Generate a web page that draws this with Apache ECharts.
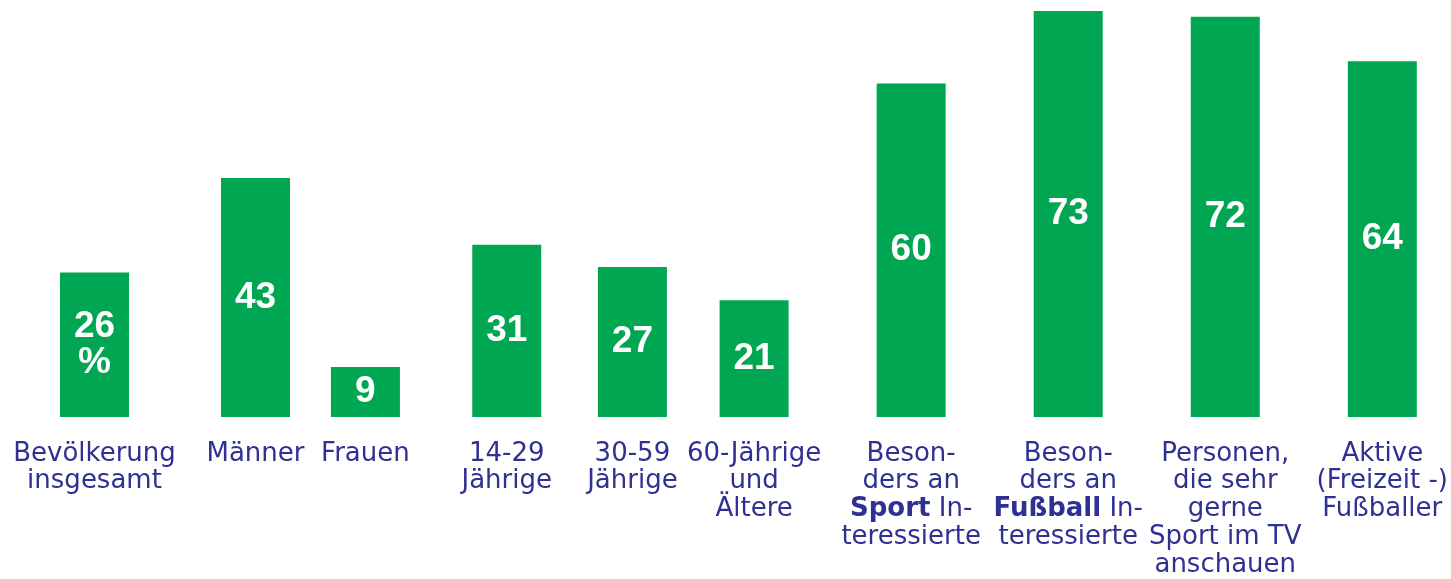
<!DOCTYPE html>
<html>
<head>
<meta charset="utf-8">
<script src="https://cdn.jsdelivr.net/npm/echarts@6/dist/echarts.min.js"></script>
<style>
  html, body { margin: 0; padding: 0; background: #ffffff; }
  #chart { width: 1451px; height: 579px; }
</style>
</head>
<body>
<div id="chart"></div>
<script>
// Group labels (bold keywords marked with {b|...})
var categories = [
  'Bevölkerung\ninsgesamt',
  'Männer',
  'Frauen',
  '14-29\nJährige',
  '30-59\nJährige',
  '60-Jährige\nund\nÄltere',
  'Beson-\nders an\n{b|Sport} In-\nteressierte',
  'Beson-\nders an\n{b|Fußball} In-\nteressierte',
  'Personen,\ndie sehr\ngerne\nSport im TV\nanschauen',
  'Aktive\n(Freizeit -)\nFußballer'
];
// Share in percent
var values = [26, 43, 9, 31, 27, 21, 60, 73, 72, 64];

// Layout: slot index of each bar on a fine-grained category axis (groups spaced apart)
var slots = [0, 41, 69, 105, 137, 168, 208, 248, 288, 328];
var slotCount = 329;

var axisData = [];
var seriesData = [];
for (var i = 0; i < slotCount; i++) { axisData.push(''); seriesData.push('-'); }
slots.forEach(function (s, k) {
  axisData[s] = categories[k];
  seriesData[s] = { value: values[k], idx: k };
});

var BLUE = '#2E3192';
var GREEN = '#00A651';
var FONT = '"DejaVu Sans", sans-serif';
var NUM_FONT = '"Liberation Sans Narrow", "Liberation Sans", sans-serif';

var chart = echarts.init(document.getElementById('chart'), null, { renderer: 'canvas' });
chart.setOption({
  animation: false,
  grid: { left: 92.535, right: 65.53, top: 0, bottom: 162, containLabel: false },
  xAxis: {
    type: 'category',
    data: axisData,
    boundaryGap: true,
    axisLine: { show: false },
    axisTick: { show: false },
    axisLabel: {
      interval: 0,
      margin: 23,
      color: BLUE,
      fontFamily: FONT,
      fontSize: 26,
      lineHeight: 27.8,
      align: 'center',
      verticalAlign: 'top',
      rich: {
        b: { fontWeight: 'bold', color: BLUE, fontFamily: FONT, fontSize: 26, lineHeight: 27.8 }
      }
    }
  },
  yAxis: {
    type: 'value',
    min: 0,
    max: 75,
    show: false,
    splitLine: { show: false }
  },
  series: [{
    type: 'bar',
    data: seriesData,
    barWidth: 69,
    clip: false,
    itemStyle: { color: GREEN },
    label: {
      show: true,
      position: 'inside',
      color: '#ffffff',
      fontFamily: NUM_FONT,
      fontWeight: 'bold',
      fontSize: 37,
      lineHeight: 36,
      formatter: function (p) {
        return p.data.idx === 0 ? p.value + '\n%' : String(p.value);
      }
    }
  }]
});
</script>
</body>
</html>
